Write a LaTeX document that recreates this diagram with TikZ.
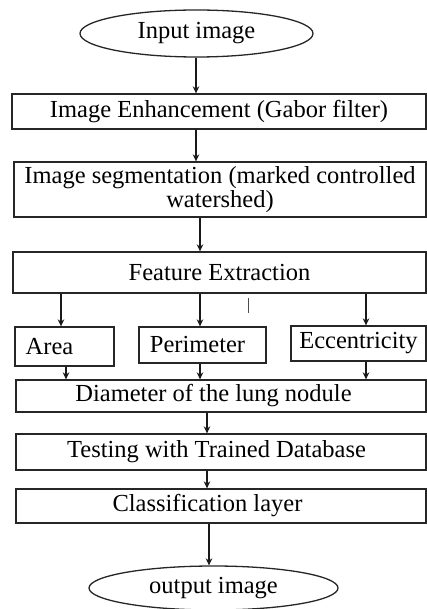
\documentclass[tikz,border=0pt]{standalone}
\usepackage{fontspec}
\setmainfont{Liberation Serif}
\usetikzlibrary{shapes.geometric,arrows.meta}
\begin{document}
\begin{tikzpicture}[x=1pt,y=-1pt,
  every node/.style={font=\fontsize{24.5}{24}\selectfont, text=black},
  box/.style={draw=black!85, line width=1.3pt, rectangle, inner sep=0pt},
  oval/.style={draw=black!85, line width=1.3pt, ellipse, inner sep=0pt},
  arr/.style={draw=black!90, line width=1.2pt, -{Stealth[length=7pt,width=6.5pt]}}]
\useasboundingbox (0,0) rectangle (427,609);

% process steps
\node[oval, minimum width=233, minimum height=47] (in) at (196.5,33.5) {Input image};
\node[box, minimum width=414, minimum height=35] (enh) at (219,111.5) {Image Enhancement (Gabor filter)};
\node[box, minimum width=412, minimum height=55, align=center] (seg) at (220,189.5)
  {Image segmentation (marked controlled\\watershed)};
\node[box, minimum width=413, minimum height=41] (feat) at (219.5,272.5) {Feature Extraction};

% extracted features
\node[box, minimum width=99, minimum height=39, label={[xshift=-15pt]center:Area}] (area) at (64.5,346.5) {};
\node[box, minimum width=127, minimum height=36, label={[xshift=-5pt]center:Perimeter}] (per) at (202.5,345) {};
\node[box, minimum width=135, minimum height=35] (ecc) at (358.5,343.5) {Eccentricity};

\node[box, minimum width=410, minimum height=32, label={[xshift=-7.5pt]center:Diameter of the lung nodule}] (dia) at (221,396) {};
\node[box, minimum width=410, minimum height=36, label={[xshift=-4.5pt]center:Testing with Trained Database}] (test) at (221,452) {};
\node[box, minimum width=410, minimum height=34, label={[xshift=-13.5pt]center:Classification layer}] (cls) at (221,506) {};
\node[oval, minimum width=249, minimum height=44] (out) at (213.5,588) {output image};

% arrow columns
\coordinate (xa) at (196,0);
\coordinate (xb) at (200,0);
\coordinate (xl) at (61,0);
\coordinate (xl2) at (66,0);
\coordinate (xr) at (366,0);
\coordinate (xd) at (207,0);
\coordinate (xe) at (209,0);

\draw[arr] (in.south -| xa) -- (enh.north -| xa);
\draw[arr] (enh.south -| xa) -- (seg.north -| xa);
\draw[arr] (seg.south -| xb) -- (feat.north -| xb);
\draw[arr] (feat.south -| xl) -- (area.north -| xl);
\draw[arr] (feat.south -| xb) -- (per.north -| xb);
\draw[arr] (feat.south -| xr) -- (ecc.north -| xr);
\draw[arr] (area.south -| xl2) -- (dia.north -| xl2);
\draw[arr] (per.south -| xb) -- (dia.north -| xb);
\draw[arr] (ecc.south -| xr) -- (dia.north -| xr);
\draw[arr] (dia.south -| xd) -- (test.north -| xd);
\draw[arr] (test.south -| xd) -- (cls.north -| xd);
\draw[arr] (cls.south -| xe) -- (out.north -| xe);

% small stray stroke below the feature box
\coordinate (t1) at (248,298);
\coordinate (t2) at (248,313);
\draw[black!70, line width=0.9pt] (t1) -- (t2);
\end{tikzpicture}
\end{document}
